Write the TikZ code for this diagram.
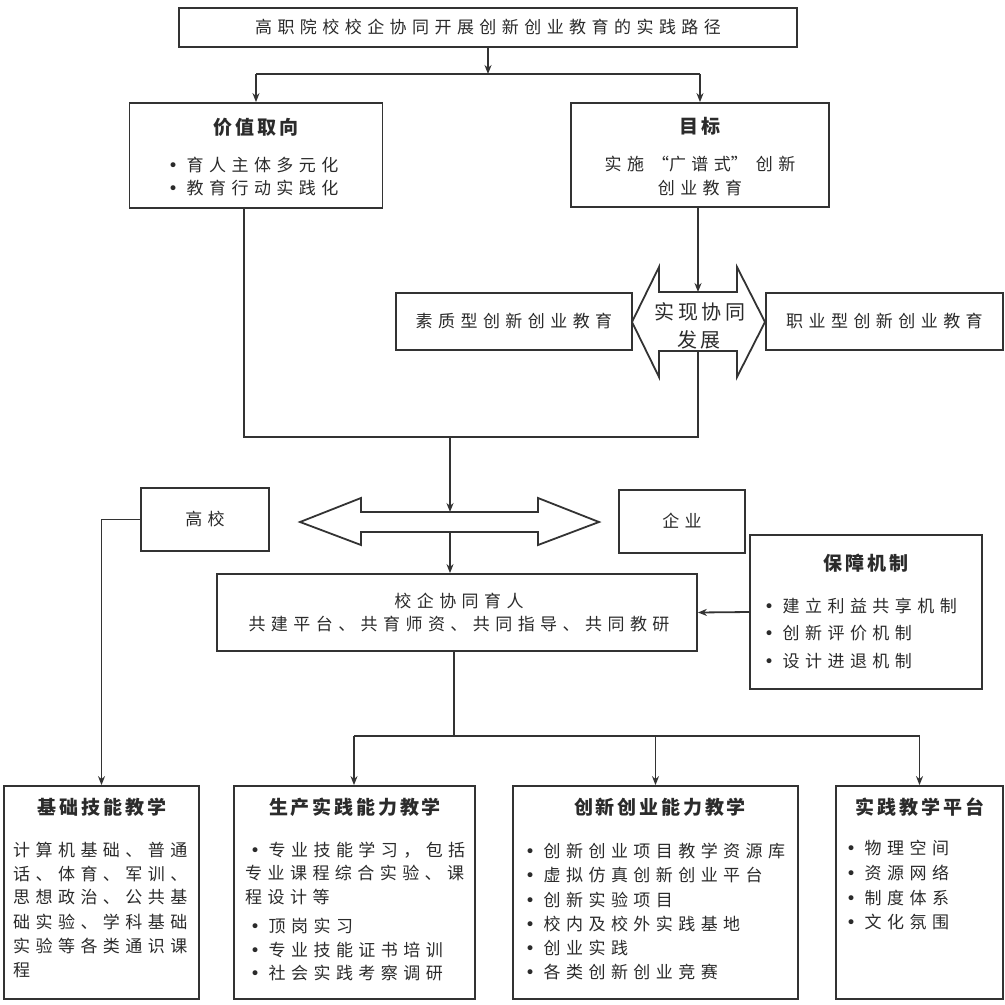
\documentclass[tikz,border=0pt]{standalone}
\usepackage{fontspec}
\setmainfont{Noto Sans CJK SC}
\newfontfamily\cjk{Noto Sans CJK SC}[LetterSpace=32]
\newfontfamily\cjkh{Noto Sans CJK SC}[LetterSpace=15]
\newfontfamily\cjkbig{Noto Sans CJK SC}[LetterSpace=17]
\newfontfamily\dv{DejaVu Sans}
\usetikzlibrary{arrows.meta}
\definecolor{lc}{HTML}{333333}
\definecolor{tc}{HTML}{2B2B2B}
\newcommand\bodyfont{\cjk\fontsize{17}{22}\selectfont}
\newcommand\headfont{\cjkh\bfseries\fontsize{19}{24}\selectfont}
\newcommand\bigfont{\cjkbig\fontsize{20}{24}\selectfont}
\newcommand\bul{\makebox[18.5pt][l]{\dv\fontsize{17}{20}\selectfont •}}
\tikzset{
  box/.style={draw=lc, line width=1.8pt, fill=white, inner sep=0pt},
  body/.style={font=\bodyfont, text=tc, inner sep=0pt, text height=14pt, text depth=1.5pt},
  bodyl/.style={body, anchor=west},
  head/.style={font=\headfont, text=tc, inner sep=0pt, text height=15.8pt, text depth=1.6pt},
  bigt/.style={font=\bigfont, text=tc, inner sep=0pt, text height=16.6pt, text depth=1.7pt},
  conn/.style={draw=lc, line width=1.8pt},
  arr/.style={conn, -{Stealth[length=9pt,width=7pt]}},
}
\begin{document}
\begin{tikzpicture}[x=1pt,y=-1pt]
\useasboundingbox (0,0) rectangle (1005,1005);
% top
\node[box, body, minimum width=618pt, minimum height=39pt] (title) at (488,27.5) {高职院校校企协同开展创新创业教育的实践路径};
% value
\node[box, minimum width=253pt, minimum height=105pt] (value) at (256,155.5) {};
\node[head] (valueT) at (256,127) {价值取向};
\node[bodyl] (value1) at (168,165) {\bul 育人主体多元化};
\node[bodyl] (value2) at (168,188) {\bul 教育行动实践化};
% goal
\node[box, minimum width=258pt, minimum height=104pt] (goal) at (700,155) {};
\node[head] (goalT) at (700,126) {目标};
\node[body] (goal1) at (700,164) {实施\makebox[25pt][r]{“}广谱式\makebox[25pt][l]{”}创新};
\node[body] (goal2) at (700,188) {创业教育};
% split from title
\coordinate (tsplit) at (488,74);
\coordinate (vsplit) at (256,74);
\coordinate (gsplit) at (700,74);
\draw[arr] (title.south) -- (tsplit);
\draw[conn] (vsplit) -- (gsplit);
\draw[arr] (vsplit) -- (value.north);
\draw[arr] (gsplit) -- (goal.north);
% quality / career
\node[box, body, minimum width=236pt, minimum height=57pt] (qual) at (514,321.5) {素质型创新创业教育};
\node[box, body, minimum width=237pt, minimum height=57pt] (career) at (884.5,321.5) {职业型创新创业教育};
% cooperation double arrow
\draw[conn, fill=white] (632,322) -- (659,267) -- (659,292) -- (737,292) -- (737,267) -- (765,322)
  -- (737,377) -- (737,351) -- (659,351) -- (659,377) -- cycle;
\coordinate (coopT) at (698,292);
\coordinate (coopB) at (698,351);
\node[bigt] (coop1) at (700,312) {实现协同};
\node[bigt] (coop2) at (699,340) {发展};
\draw[arr] (goal.south -| coopT) -- (coopT);
% merge
\coordinate (mL) at (244,437);
\coordinate (mR) at (698,437);
\coordinate (mC) at (450,437);
\draw[conn] (value.south -| mL) -- (mL) -- (mR) -- (coopB);
% big double arrow
\draw[conn, fill=white] (300,522) -- (361,498) -- (361,512) -- (538,512) -- (538,498) -- (599,522)
  -- (538,545) -- (538,532) -- (361,532) -- (361,545) -- cycle;
\coordinate (bigT) at (450,512);
\coordinate (bigB) at (450,532);
\draw[arr] (mC) -- (bigT);
\node[box, body, minimum width=128pt, minimum height=63pt] (uni) at (205,519.5) {高校};
\node[box, body, minimum width=126pt, minimum height=63pt] (ent) at (682,521.5) {企业};
% school-enterprise
\node[box, minimum width=480pt, minimum height=77pt] (xq) at (457,612.5) {};
\node[body] (xq1) at (459,601) {校企协同育人};
\node[body] (xq2) at (459,624) {共建平台、共育师资、共同指导、共同教研};
\draw[arr] (bigB) -- (bigB |- xq.north);
% guarantee
\node[box, minimum width=232pt, minimum height=154pt] (guar) at (866,612) {};
\node[head] (guarT) at (866,563) {保障机制};
\node[bodyl] (guar1) at (764,606) {\bul 建立利益共享机制};
\node[bodyl] (guar2) at (764,633) {\bul 创新评价机制};
\node[bodyl] (guar3) at (764,661) {\bul 设计进退机制};
\draw[arr] (guar.west) -- (xq.east);
% bottom boxes
\node[box, minimum width=195pt, minimum height=213pt] (basic) at (101.5,892.5) {};
\node[box, minimum width=241pt, minimum height=213pt] (prod) at (354.5,892.5) {};
\node[box, minimum width=285pt, minimum height=213pt] (innov) at (655.5,892.5) {};
\node[box, minimum width=167pt, minimum height=213pt] (plat) at (919.5,892.5) {};
\node[head] (basicT) at (102,807) {基础技能教学};
\node[head] (prodT) at (355,807) {生产实践能力教学};
\node[head] (innovT) at (660,807) {创新创业能力教学};
\node[head] (platT) at (920,807) {实践教学平台};
\node[bodyl] (basic1) at (13,850) {计算机基础、普通};
\node[bodyl] (basic2) at (13,874) {话、体育、军训、};
\node[bodyl] (basic3) at (13,897) {思想政治、公共基};
\node[bodyl] (basic4) at (13,922) {础实验、学科基础};
\node[bodyl] (basic5) at (13,946) {实验等各类通识课};
\node[bodyl] (basic6) at (13,970) {程};
\node[bodyl] (prod1) at (250,850) {\bul 专业技能学习，包括};
\node[bodyl] (prod2) at (245,873) {专业课程综合实验、课};
\node[bodyl] (prod3) at (245,897) {程设计等};
\node[bodyl] (prod4) at (250,926) {\bul 顶岗实习};
\node[bodyl] (prod5) at (250,950) {\bul 专业技能证书培训};
\node[bodyl] (prod6) at (250,973) {\bul 社会实践考察调研};
\node[bodyl] (innov1) at (525,851) {\bul 创新创业项目教学资源库};
\node[bodyl] (innov2) at (525,875) {\bul 虚拟仿真创新创业平台};
\node[bodyl] (innov3) at (525,900) {\bul 创新实验项目};
\node[bodyl] (innov4) at (525,924) {\bul 校内及校外实践基地};
\node[bodyl] (innov5) at (525,948) {\bul 创业实践};
\node[bodyl] (innov6) at (525,972) {\bul 各类创新创业竞赛};
\node[bodyl] (plat1) at (846,848) {\bul 物理空间};
\node[bodyl] (plat2) at (846,873) {\bul 资源网络};
\node[bodyl] (plat3) at (846,898) {\bul 制度体系};
\node[bodyl] (plat4) at (846,922) {\bul 文化氛围};
% bottom connectors
\coordinate (sC) at (454,736);
\coordinate (sL) at (354,736);
\coordinate (sM) at (655.5,736);
\coordinate (sR) at (919.5,736);
\draw[conn] (xq.south -| sC) -- (sC);
\draw[conn] (sL) -- (sR);
\draw[arr] (sL) -- (sL |- prod.north);
\draw[arr] (sM) -- (innov.north);
\draw[arr] (sR) -- (plat.north);
\draw[arr] (uni.west) -| (basic.north);
\end{tikzpicture}
\end{document}
